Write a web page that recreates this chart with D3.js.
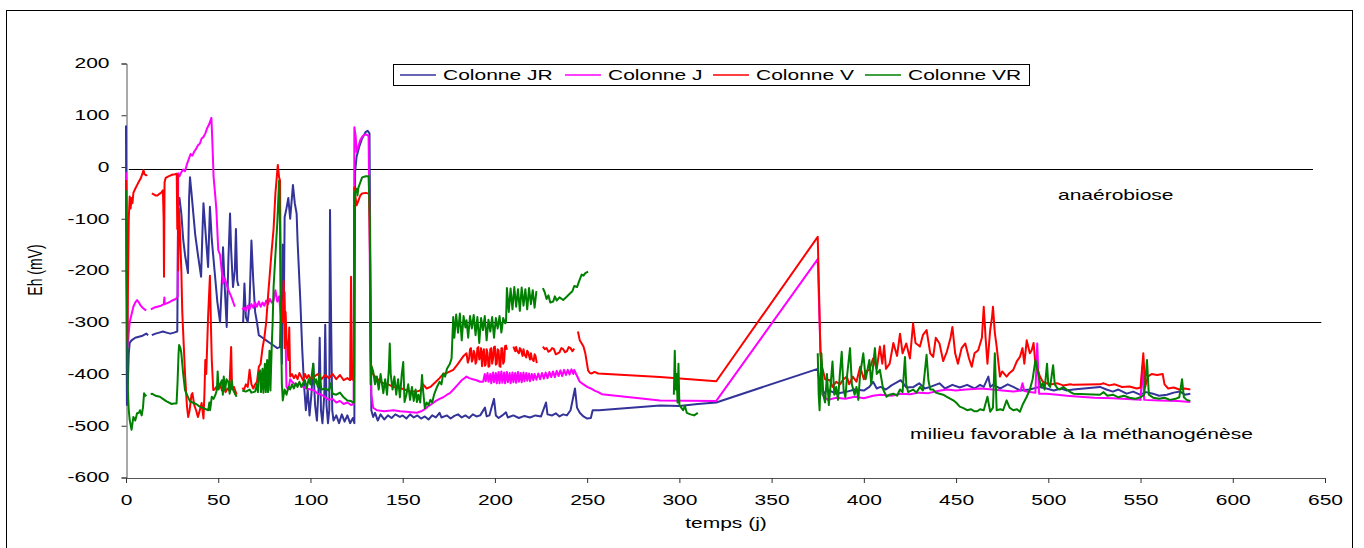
<!DOCTYPE html>
<html>
<head>
<meta charset="utf-8">
<script src="https://cdn.jsdelivr.net/npm/d3@7"></script>
<style>
  body { margin: 0; background: #fff; }
  text { font-family: "Liberation Sans", Arial, sans-serif; fill: #000; }
</style>
</head>
<body>
<svg id="chart" width="1364" height="548"></svg>
<script>
// Axis ticks
const xTicks = [0, 50, 100, 150, 200, 250, 300, 350, 400, 450, 500, 550, 600, 650];
const yTicks = [200, 100, 0, -100, -200, -300, -400, -500, -600];

// Series names and colours
const seriesNames = ["Colonne JR", "Colonne J", "Colonne V", "Colonne VR"];
const seriesColors = ["#333399", "#FF00FF", "#FF0000", "#008000"];

// Threshold lines: [level (mV), start day, end day]
const thresholds = [[-4, 1.5, 643.5], [-300, 0, 648]];

// Annotation texts
const zoneLabels = ["anaérobiose", "milieu favorable à la méthanogénèse"];

// Eh (mV) versus time (days); null marks a gap in the record
const colonneJR = [
  [0,80],[0.2,-200],[0.5,-460],[1,-420],[1.5,-360],[2,-340],[3,-335],[5,-330],[7,-328],[9,-326],[11,-322],[12,-325],[12.5,null],
  [14,-325],[16,-322],[18,-320],[20,-318],[22,-320],[24,-322],[26,-320],[27.8,-318],[28.3,-70],[29,-60],[30,-90],[31,-140],[32,-170],
  [33.6,-205],[34.2,-60],[34.7,-20],[35.5,-50],[36.5,-90],[37.5,-130],[39,-170],[40.7,-212],[41.5,-120],[42,-70],[43,-120],[44.5,-193],
  [45.5,-77],[46.5,-140],[48,-200],[49.5,-260],[51,-300],[52,-220],[52.6,-155],[53.5,-230],[54.6,-309],[55.5,-180],[56.4,-90],[57,-160],
  [58,-232],[59,-200],[59.6,-120],[60.3,-220],[61,-230],[61.5,null],
  [63.5,-300],[64.2,-225],[65,-290],[66,-300],[67,-260],[68,-142],[69,-220],[70,-280],[71,-300],[72,-325],[74,-330],[76,-335],[78,-340],
  [80,-345],[82,-350],[83.5,-348],[84,-250],[84.5,-380],[85,-150],[85.5,-300],[86,-97],[87,-80],[88,-60],[89,-100],[90.5,-35],[91.5,-70],
  [92.5,-90],[93,-142],[94.5,-258],[95.5,-350],[96.5,-420],[97.5,-470],[98.5,-430],[99.5,-480],[100.5,-440],[101.5,-380],[102.5,-460],
  [103.5,-490],[104.5,-420],[105,-330],[105.7,-470],[106.5,-495],[107.5,-440],[108,-305],[108.7,-460],[109.5,-495],[110.2,-470],[110.6,-83],
  [111.2,-300],[111.8,-470],[112.5,-490],[114,-480],[115.5,-495],[117,-478],[118.5,-492],[120,-480],[121.5,-495],[123,-485],[123.8,-495],
  [124.2,-10],[125,20],[126.5,40],[128,55],[130,68],[131,70],[132,65],[132.5,-200],[133,-470],[134,-483],[135,-475],[136.5,-490],[138,-478],
  [140,-488],[142,-480],[144,-485],[146,-478],[148.5,-483],[150,-480],[152,-486],[154,-478],[156,-484],[158,-480],[160,-486],[162,-482],
  [164,-488],[166,-480],[168,-484],[170,-475],[171,-484],[174,-480],[176,-486],[178,-481],[180,-478],[182,-484],[184,-480],[186,-485],
  [188,-478],[190,-482],[192,-480],[194.6,-465],[195.5,-482],[197,-480],[199.5,-448],[200.5,-480],[202,-485],[204,-480],[206,-474],
  [207,-484],[210,-480],[213,-485],[216,-481],[219,-484],[222,-480],[225,-482],[227.7,-455],[228.5,-478],[231,-480],[233,-476],[235,-482],
  [237,-478],[239,-480],[241,-470],[243.4,-428],[244.5,-465],[246,-475],[248,-482],[250,-486],[252,-485],[253,-470],[256.5,-470],
  [289.5,-461],[300,-462],[305,-460],[310,-458],[320,-455],[375,-390],[376,-418],[378,-440],[380,-430],[385,-438],[391,-434],[395,-430],
  [400,-432],[403,-425],[405,-415],[407,-428],[409,-425],[412,-430],[415,-422],[420,-412],[423,-426],[427,-425],[430,-418],[433,-428],
  [436,-425],[441,-418],[444,-428],[448,-421],[452,-426],[456,-421],[460,-428],[463,-421],[465,-425],[467.5,-405],[468.5,-425],[470,-421],
  [474,-428],[478,-420],[481,-425],[485,-432],[490,-430],[495,-425],[499,-428],[503,-432],[507,-428],[510,-432],[513.6,-430],[528,-425],
  [531.5,-430],[535,-434],[538,-430],[542.5,-438],[546,-434],[549.7,-440],[553,-435],[556.8,-438],[560,-442],[564.3,-440],[568,-436],
  [571.5,-434],[574,-440],[577,-438]
];

const colonneJ = [
  [0,-10],[0.3,-40],[0.7,-200],[1,-348],[1.5,-320],[2,-300],[3,-285],[4,-270],[5,-262],[6,-257],[7,-262],[8,-268],[9,-272],[10,-275],
  [11,-277],[11.5,null],
  [13.5,-275],[15,-272],[17,-270],[19,-268],[20.5,-265],[20.8,-252],[21,-265],[23,-262],[25,-258],[27,-255],[28,-250],[28.3,-12],[29,-18],
  [30,-10],[31,-5],[32,-8],[33,5],[34,15],[35,25],[36,22],[37,30],[38,35],[39,42],[40,45],[41,55],[42,58],[43,65],[44,75],[45,82],
  [46.3,95],[46.8,50],[47.5,-20],[48.5,-60],[49,-83],[50,-160],[51,-170],[52.6,-225],[53.5,-215],[55.5,-238],[57,-250],[59,-270],[59.5,null],
  [63,-275],[64,-272],[65,-278],[66,-268],[67,-275],[68,-265],[69,-272],[70,-262],[71,-270],[72,-260],[73,-270],[74,-262],[75,-268],
  [76,-258],[77,-265],[78,-255],[79,-262],[80,-258],[81,-238],[82,-260],[83,-250],[84,-290],[85,-270],[86,-242],[86.5,-330],[87,-425],
  [88,-430],[89,-410],[90,-415],[92,-422],[94,-418],[96,-425],[98,-428],[100,-430],[102,-432],[104,-438],[106,-440],[108,-445],[110,-450],
  [112,-448],[114,-455],[116,-452],[118,-458],[120,-455],[122,-460],[123.4,-458],[123.8,77],[124.5,60],[125,29],[126,40],[127,52],[128,58],
  [129,62],[130,63],[131.5,60],[132,-100],[132.5,-350],[133,-440],[134,-465],[136,-470],[140,-472],[145,-470],[148.5,-472],[152,-473],
  [157.7,-475],[160,-472],[162,-468],[164,-462],[166.5,-456],[168,-452],[170,-448],[172,-445],[174,-440],[175.6,-437],[178,-428],[180,-420],
  [182,-412],[184.6,-405],[186,-408],[188,-410],[190,-412],[192,-415],[193.6,-415],[194.5,-400],[195,-414],[196,-398],[196.5,-415],
  [197.5,-400],[198,-418],[199,-397],[199.5,-416],[200.5,-398],[201,-418],[202,-396],[202.5,-418],[203.5,-395],[204,-417],[205,-397],
  [205.5,-418],[206.5,-396],[207,-416],[208,-398],[208.5,-418],[209.5,-397],[210,-416],[211,-398],[211.5,-417],[212.5,-396],[213,-415],
  [214,-398],[214.5,-416],[215.5,-397],[216,-414],[217,-398],[217.5,-413],[218.5,-399],[219,-414],[220,-400],[220.8,-412],[221.5,-400],
  [222.5,-411],[223.5,-399],[224.5,-410],[225.5,-398],[226.5,-409],[227.5,-397],[228.5,-408],[229.5,-396],[230.5,-406],[231.5,-395],
  [232.5,-406],[233.5,-394],[234.5,-404],[235.5,-393],[236.5,-404],[237.5,-392],[238.5,-402],[239.5,-392],[240.5,-401],[241.5,-391],
  [242.5,-400],[243,-392],[244,-400],[246,-415],[248,-420],[250,-425],[252,-428],[254,-432],[256,-435],[258,-439],[289.5,-451],[320,-452],
  [375,-178],[376.5,-360],
  [377.5,-440],[380.5,-450],[385,-446],[390,-448],[395,-444],[400,-447],[405,-442],[409,-440],[415,-442],[420,-438],[425,-439],[430,-436],
  [435,-437],[440,-433],[445,-430],[450,-432],[455,-430],[460,-429],[463,-428],[470,-430],[475,-432],[481,-434],[485,-432],[486,-418],
  [487,-433],[490,-435],[493,-436],[494,-341],[495,-438],[499,-438],[505,-440],[510,-442],[517,-444],[525,-446],[535,-447],[545,-449],
  [550,-450],[551,-386],[552,-450],[560,-451],[570,-452],[577,-454]
];

const colonneV = [
  [0,-25],[0.3,-120],[0.7,-335],[1,-250],[1.5,-100],[2,-57],[2.5,-80],[3,-60],[3.5,-70],[4,-50],[5,-42],[6,-35],[7,-28],[8,-22],[9,-12],
  [9.5,-6],[10,-14],[11,-16],[11.5,-15],[11.8,null],
  [14,-51],[15,-53],[16,-55],[17,-55],[18,-52],[19,-50],[20,-45],[20.4,-100],[20.6,-212],[20.9,-30],[21.5,-21],[23,-18],[25,-15],
  [26.5,-14],[27.5,-13],[27.8,-120],[28,-15],[28.3,-200],[28.6,-80],[29,-100],[29.5,-150],[30,-200],[30.5,-280],[31,-320],[32,-400],
  [33,-460],[33.7,-483],[34.5,-470],[35.5,-440],[36,-437],[37,-460],[38,-470],[39,-483],[40,-470],[41,-456],[42,-486],[42.5,-440],
  [43,-373],[43.5,-400],[44.5,-290],[45.5,-210],[46,-300],[46.5,-373],[47.3,-431],[48,-430],[49,-425],[50,-428],[51,-420],[52,-432],
  [53,-425],[54,-435],[55,-428],[56,-432],[57,-348],[57.5,-430],[58.5,-425],[59.5,-435],[60,-440],[60.5,null],
  [63,-427],[64,-430],[65,-420],[66,-425],[67,-392],[68,-420],[69,-428],[70,-420],[71,-415],[72,-386],[73,-380],[74,-350],[75,-330],
  [76,-300],[77,-250],[78,-205],[79,-160],[80,-120],[81,-51],[82.3,4],[83,-20],[83.5,-26],[84,-283],[85,-300],[85.5,-220],[86,-350],
  [86.5,-280],[87,-330],[88,-373],[88.5,-310],[89,-405],[90,-400],[91,-408],[92,-402],[93,-410],[94,-398],[95,-405],[96,-412],[97,-400],
  [98,-408],[99,-402],[100,-410],[102,-405],[104,-400],[106,-410],[108,-402],[110,-408],[112,-400],[114,-410],[116,-402],[118,-412],
  [120,-408],[121.5,-412],[122,-212],[122.5,-410],[123.5,-412],[123.8,-39],[124.5,-60],[125,-74],[126,-65],[127,-55],[128,-51],[130,-50],
  [131,-51],[131.8,-52],[132.3,-174],[132.8,-380],[133.5,-398],[135,-405],[137,-412],[139.5,-418],[142,-420],[145,-425],[148.5,-427],
  [151,-430],[154,-434],[157.5,-434],[159.4,-432],[161,-420],[163,-428],[165,-425],[168,-415],[170,-408],[172,-400],[174,-398],
  [177.4,-392],[179,-385],[181,-375],[183,-365],[184.6,-360],[185.3,-378],[186,-370],[186.5,-352],[187,-350],[187.5,-376],[188,-372],
  [188.5,-355],[189,-360],[189.5,-380],[190,-375],[190.5,-350],[191,-348],[191.5,-372],[192,-367],[192.5,-350],[193,-385],[193.5,-360],
  [194,-352],[194.5,-384],[195,-382],[195.5,-352],[196,-360],[196.5,-386],[197,-385],[197.5,-352],[198,-350],[198.5,-380],[199,-370],
  [199.5,-348],[200,-347],[200.5,-382],[201,-380],[201.5,-352],[202,-355],[202.5,-385],[203,-386],[203.5,-350],[204,-350],[204.5,-380],
  [205,-375],[205.5,-346],[206,-345],[206.5,-353],[207,null],
  [210,-347],[211,-356],[211.5,-348],[212,-355],[213,-360],[213.5,-350],[214,-352],[215,-365],[215.5,-352],[216,-362],[217,-368],
  [217.5,-355],[218,-358],[219,-372],[219.5,-360],[220,-370],[221,-375],[221.5,-362],[222,-365],[222.7,-379],[223,null],
  [226,-347],[227,-352],[228,-350],[229,-357],[230,-355],[231,-350],[232,-352],[233,-362],[234,-360],[235,-358],[236,-350],[237,-352],
  [238,-358],[239,-356],[240,-348],[241,-350],[242,-356],[243,-351],[243.5,null],
  [245,-318],[246,-335],[248,-347],[249,-360],[250.5,-393],[251.5,-398],[252.5,-399],[254,-396],[256,-399],[289.5,-406],[320,-414],
  [375,-135],[376.5,-360],[377.3,-386],[379,-410],[381.6,-412],[383,-425],[385,-415],[387,-420],[389,-410],[390.8,-405],[392,-420],
  [394,-405],[396,-415],[398,-386],[400,-410],[401,-395],[403,-392],[405,-370],[407,-390],[408.7,-347],[410,-380],[411,-345],[412,-390],
  [414,-380],[416,-340],[418,-365],[419.6,-322],[421,-360],[423,-341],[425,-370],[426.7,-302],[428,-340],[430.4,-347],[432,-325],
  [434,-315],[436,-360],[437.6,-367],[439,-330],[441,-341],[443,-375],[445,-357],[447,-330],[448,-309],[449.5,-360],[451,-380],[453,-350],
  [455,-341],[457,-370],[458.5,-386],[460,-360],[462,-354],[464,-330],[465,-270],[466,-330],[467,-380],[468.5,-315],[469.5,-290],
  [470,-270],[471,-320],[472,-347],[473.8,-405],[475,-395],[477.4,-405],[479,-398],[481,-392],[483,-375],[484.6,-367],[486,-350],
  [487,-380],[488.3,-335],[490,-360],[491,-354],[492,-340],[493,-380],[494.5,-395],[495.5,-405],[497,-415],[499,-418],[502,-420],
  [505,-418],[508,-422],[512,-420],[513.6,-421],[528,-420],[530,-418],[533,-422],[536,-420],[540,-425],[544,-424],[548,-428],[550,-426],
  [551.5,-360],[552.5,-425],[554,-405],[556,-400],[559,-402],[562,-400],[563,-420],[565,-428],[568,-426],[571,-430],[574,-428],[577,-430]
];

const colonneVR = [
  [0,-45],[0.3,-150],[0.6,-300],[1,-430],[1.5,-470],[2,-489],[3,-508],[4,-483],[5,-490],[6,-476],[7,-475],[7.6,-470],[8.5,-480],
  [9.2,-465],[9.8,-437],[10.5,-442],[11,-440],[11.5,null],
  [13.5,-440],[14,-438],[16,-442],[18.4,-444],[20,-448],[22,-453],[24.8,-458],[26,-457],[27.4,-457],[27.9,-420],[28.5,-360],[28.8,-344],
  [29.5,-350],[30,-360],[31,-400],[32,-431],[33,-440],[34.7,-453],[36,-455],[38,-458],[40,-463],[42,-466],[44.6,-470],[45.2,-455],
  [45.6,-470],[46.5,-444],[47.5,-448],[48.5,-440],[49.3,-430],[49.7,-395],[50.2,-430],[51,-420],[52,-412],[52.5,-440],[53,-405],
  [53.7,-432],[54.5,-410],[55.5,-416],[56.2,-438],[57.3,-412],[58,-430],[59,-438],[60,-444],[60.5,null],
  [63,-432],[65,-434],[67,-430],[68,-436],[70,-434],[71,-420],[71.5,-435],[72,-400],[72.7,-393],[73.2,-435],[74,-390],[74.5,-436],
  [75.3,-380],[75.8,-435],[76.5,-373],[77,-435],[77.8,-355],[78.3,-432],[79,-347],[79.5,-300],[80,-232],[81,-170],[82,-109],[83,-26],
  [83.5,-116],[84,-300],[84.5,-420],[85,-451],[85.5,-440],[86,-430],[87,-440],[88,-425],[89,-430],[90,-420],[91,-428],[92,-418],
  [93,-425],[94,-415],[95,-425],[96,-418],[97,-412],[98,-428],[99,-410],[100,-420],[101,-395],[101.5,-380],[102,-420],[103,-410],
  [104,-425],[105,-400],[105.5,-420],[106,-430],[108,-428],[110,-432],[111,-418],[112,-438],[114,-440],[116,-436],[118,-445],[120,-451],
  [122,-452],[123,-455],[123.6,-455],[123.8,-51],[125,-42],[125.5,-55],[126,-40],[127,-30],[128,-20],[130,-18],[131.5,-18],[132.2,-100],
  [132.6,-420],[133.2,-386],[134,-395],[135,-420],[136,-405],[137,-430],[138,-400],[139.5,-437],[140.5,-410],[141.5,-440],[142.5,-390],
  [143,-341],[143.5,-400],[144.5,-430],[145.5,-405],[146.5,-440],[147.5,-410],[148.5,-445],[149.5,-400],[150.3,-377],[151,-454],
  [152,-440],[153,-420],[154,-450],[155,-425],[156,-452],[157,-430],[157.7,-454],[158.5,-440],[159.5,-455],[160.5,-402],[161,-430],
  [162,-466],[163,-455],[164,-460],[165,-450],[166,-455],[167,-440],[168.6,-425],[170,-415],[171,-420],[172,-399],[173,-405],[174,-390],
  [175.6,-380],[176.5,-370],[177.4,-290],[178,-330],[179,-285],[180,-320],[181,-283],[182,-335],[183,-288],[184,-310],[184.6,-296],
  [185.5,-330],[186.5,-288],[187.5,-312],[188.5,-286],[189.5,-325],[190.5,-290],[191.5,-340],[192.5,-292],[193.5,-315],[194.5,-288],
  [195.5,-335],[196.5,-295],[197.5,-318],[198.5,-290],[199.5,-330],[200.5,-292],[201.5,-312],[202.5,-288],[203.5,-320],[204.5,-292],
  [205.5,-302],[206,-300],[206.5,-234],[207.5,-280],[208.5,-235],[209.5,-275],[210.5,-232],[211.5,-270],[212.5,-236],[213.5,-278],
  [214.5,-233],[215.5,-268],[216.5,-236],[217.5,-275],[218.5,-234],[219.5,-265],[220.5,-238],[221.5,-272],[222.5,-240],[223,null],
  [226,-234],[227,-242],[228,-255],[229,-248],[230,-262],[231.6,-260],[232.5,-250],[233.5,-258],[235,-252],[237,-257],[238.5,-252],
  [240.8,-244],[242,-240],[243,-230],[244.5,-232],[245.5,-222],[247,-208],[248,-210],[249,-205],[250.5,-202],[251,null],
  [297,-440],[297.5,-355],[298,-430],[298.5,-400],[299,-455],[299.5,-380],[300,-460],[301,-465],[302,-470],[303,-462],[304,-475],
  [306,-478],[308,-480],[310,-475],[310.5,null],
  [375,-360],[375.5,-438],[376,-470],[377,-360],[378,-440],[379,-455],[380,-400],[381,-460],[382,-420],[383,-376],[384,-440],[385,-425],
  [386,-450],[387,-400],[388,-357],[389,-430],[390,-445],[391,-400],[392.5,-350],[393.5,-420],[395,-440],[396,-425],[397,-450],[398,-400],
  [399.7,-360],[401,-410],[403,-373],[404,-420],[406,-350],[407,-400],[408.7,-392],[410.5,-430],[412.3,-444],[414,-440],[416,-438],
  [418,-442],[419.6,-430],[421,-435],[422.3,-367],[423,-420],[424,-435],[426.7,-430],[428.5,-436],[430.4,-425],[432,-432],[434,-363],
  [435,-412],[436,-430],[437.6,-430],[439,-436],[441,-438],[443,-440],[445,-444],[447,-448],[448.5,-451],[450,-455],[452,-463],
  [454,-466],[456,-470],[458,-468],[460,-472],[461.5,-472],[463,-468],[465,-470],[467,-444],[468.5,-473],[470,-465],[471,-360],
  [472,-470],[474,-468],[475.5,-470],[477.4,-451],[479,-465],[481,-470],[483,-468],[484.6,-473],[486,-460],[488.3,-444],[490,-430],
  [491.5,-410],[493,-373],[494.6,-400],[496,-425],[497,-418],[498,-430],[499.3,-380],[500,-420],[501,-425],[502.6,-383],[503.5,-420],
  [505,-428],[506.3,-430],[508,-425],[510,-430],[512,-435],[513.6,-438],[528,-440],[530,-435],[532,-442],[535,-440],[538,-445],
  [541,-442],[544,-446],[547,-448],[550,-445],[552,-440],[553.5,-373],[554.5,-440],[557,-446],[560,-448],[563,-446],[566,-450],
  [569,-448],[571,-445],[572.5,-410],[573.5,-445],[575,-450],[577,-452]
];

const seriesData = [colonneJR, colonneJ, colonneV, colonneVR];

// Layout
const SX = 1.5;           // horizontal stretch applied to all text
const FS = 14;            // font size
const svg = d3.select("#chart");

const x = d3.scaleLinear().domain([0, 650]).range([126, 1325]);
const y = d3.scaleLinear().domain([-600, 200]).range([477.5, 63.5]);

// Outer frame
svg.append("rect")
  .attr("x", 6.5).attr("y", 10.5)
  .attr("width", 1346).attr("height", 560)
  .attr("fill", "none").attr("stroke", "#000").attr("stroke-width", 1);

function stretchedText(parent, px, py, str, anchor, rotate) {
  const g = parent.append("g")
    .attr("transform", `translate(${px},${py}) scale(${SX},1)` + (rotate ? ` rotate(${rotate})` : ""));
  return g.append("text")
    .attr("text-anchor", anchor)
    .attr("font-size", FS)
    .text(str);
}

// Axes (plain hyphen for negative numbers)
const plain = d => String(d);
const yAxis = d3.axisLeft(y).tickValues(yTicks).tickSize(5).tickPadding(0).tickFormat(plain);
const xAxis = d3.axisBottom(x).tickValues(xTicks).tickSize(5).tickPadding(0).tickFormat(plain);

const gy = svg.append("g").attr("transform", "translate(126.5,0)").call(yAxis);
const gx = svg.append("g").attr("transform", "translate(0,478)").call(xAxis);

[gy, gx].forEach(g => {
  g.select(".domain").attr("stroke", "#555");
  g.selectAll(".tick line").attr("stroke", "#333");
  g.selectAll(".tick text")
    .attr("font-size", FS)
    .attr("font-family", "'Liberation Sans', Arial, sans-serif")
    .attr("fill", "#000")
    .attr("transform", `scale(${SX},1)`);
});
gy.selectAll(".tick text").attr("x", -17 / SX);
gx.selectAll(".tick text").attr("y", 17.5);

// Threshold lines
svg.append("g").selectAll("line")
  .data(thresholds)
  .join("line")
  .attr("x1", d => x(d[1])).attr("x2", d => x(d[2]))
  .attr("y1", d => Math.round(y(d[0])) + 0.5).attr("y2", d => Math.round(y(d[0])) + 0.5)
  .attr("stroke", "#000").attr("stroke-width", 1);

// Series
const line = d3.line()
  .defined(d => d[1] !== null)
  .x(d => x(d[0]))
  .y(d => y(d[1]));

svg.append("g").selectAll("path")
  .data(seriesData)
  .join("path")
  .attr("d", d => line(d))
  .attr("fill", "none")
  .attr("stroke", (d, i) => seriesColors[i])
  .attr("stroke-width", 2)
  .attr("stroke-linejoin", "round");

// Legend
const legendX = [400, 565, 713, 865];
const leg = svg.append("g");
leg.append("rect")
  .attr("x", 393.5).attr("y", 64.5).attr("width", 636).attr("height", 21)
  .attr("fill", "#fff").attr("stroke", "#000").attr("stroke-width", 1);
seriesNames.forEach((name, i) => {
  leg.append("line")
    .attr("x1", legendX[i]).attr("x2", legendX[i] + 36)
    .attr("y1", 75).attr("y2", 75)
    .attr("stroke", seriesColors[i]).attr("stroke-width", 1.5);
  stretchedText(leg, legendX[i] + 43, 80, name, "start");
});

// Axis titles
stretchedText(svg, 726, 528, "temps (j)", "middle");
stretchedText(svg, 41.5, 270, "Eh (mV)", "middle", -90);

// Zone annotations
stretchedText(svg, 1058, 200, zoneLabels[0], "start");
stretchedText(svg, 910, 439, zoneLabels[1], "start");
</script>
</body>
</html>
